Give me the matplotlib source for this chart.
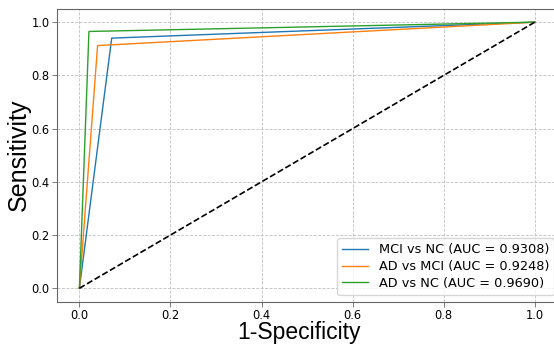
import matplotlib
matplotlib.use("Agg")
import matplotlib.pyplot as plt

# ROC points
labels = ["MCI vs NC", "AD vs MCI", "AD vs NC"]
auc_values = [0.9308, 0.9248, 0.9690]
fpr_mci_nc = [0.0, 0.071, 1.0]
tpr_mci_nc = [0.0, 0.940, 1.0]
fpr_ad_mci = [0.0, 0.040, 1.0]
tpr_ad_mci = [0.0, 0.912, 1.0]
fpr_ad_nc = [0.0, 0.021, 1.0]
tpr_ad_nc = [0.0, 0.965, 1.0]
ticks = [0.0, 0.2, 0.4, 0.6, 0.8, 1.0]

curves = [(fpr_mci_nc, tpr_mci_nc), (fpr_ad_mci, tpr_ad_mci), (fpr_ad_nc, tpr_ad_nc)]
colors = ["#1f77b4", "#ff7f0e", "#2ca02c"]

fig = plt.figure(figsize=(5.54, 3.44), dpi=100)
ax = fig.add_axes([0.1022, 0.1233, 0.910, 0.851])

for (fpr, tpr), name, auc, color in zip(curves, labels, auc_values, colors):
    ax.plot(fpr, tpr, color=color, lw=1.0, label=f"{name} (AUC = {auc:.4f})")
ax.plot([0, 1], [0, 1], color="black", lw=1.2, linestyle="--")

ax.set_xlim(-0.05, 1.057)
ax.set_xticks(ticks)
ax.set_yticks(ticks)
ax.tick_params(labelsize=8.3, length=3.5, width=0.6, pad=1.6, color="0.4")
ax.grid(True, linestyle="--", linewidth=0.6, color="#c0c0c0")
for spine in ax.spines.values():
    spine.set_color("0.4")
    spine.set_linewidth(0.8)
# the reference is cropped just before the right spine
ax.spines["right"].set_visible(False)

ax.set_xlabel("1-Specificity", fontsize=16.5, family="Liberation Sans")
ax.set_ylabel("Sensitivity", fontsize=18, family="Liberation Sans")
ax.xaxis.set_label_coords(0.48, -0.067)
ax.yaxis.set_label_coords(-0.052, 0.50)

ax.legend(loc="lower right", fontsize=9.3, handlelength=2.0, labelspacing=0.3,
          framealpha=0.8)

fig.savefig("out.png", dpi=100)
